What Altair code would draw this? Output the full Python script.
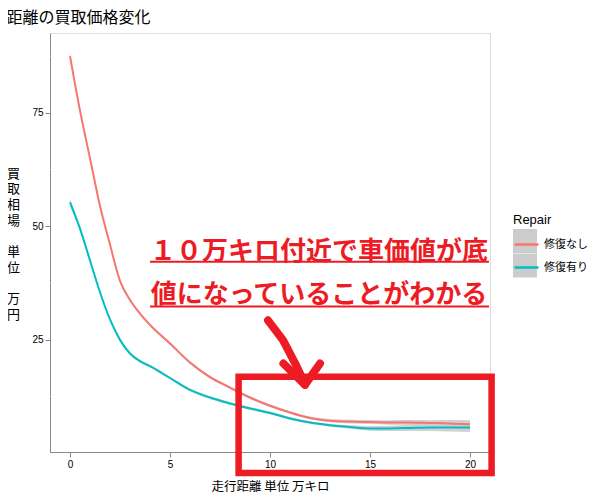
import altair as alt
import pandas as pd

# ---- data ----
dist = [0, 0.5, 1, 1.5, 2, 2.5, 3, 3.5, 4, 5, 6, 7, 8, 9, 10, 11, 12, 13, 14, 15, 16, 17, 18, 19, 20]
price_none = [87.5, 75.5, 65.0, 54.5, 46.0, 38.0, 33.8, 30.8, 28.3, 24.2, 20.0, 16.8, 14.5, 12.3, 10.5,
              9.0, 7.8, 7.2, 7.0, 6.9, 6.8, 6.8, 6.7, 6.6, 6.4]
price_rep = [55.3, 49.5, 42.5, 35.5, 29.5, 25.0, 22.0, 20.3, 19.2, 16.6, 14.0, 12.3, 11.0, 9.9, 8.9,
             7.7, 6.8, 6.2, 5.8, 5.5, 5.5, 5.6, 5.7, 5.7, 5.7]
se_none = [0.8, 0.5, 0.4, 0.35, 0.3, 0.3, 0.3, 0.3, 0.3, 0.3, 0.3, 0.3, 0.3, 0.3, 0.3,
           0.3, 0.3, 0.35, 0.4, 0.45, 0.5, 0.55, 0.6, 0.75, 0.9]
se_rep = [0.8, 0.5, 0.4, 0.35, 0.3, 0.3, 0.3, 0.3, 0.3, 0.3, 0.3, 0.3, 0.3, 0.3, 0.3,
          0.3, 0.3, 0.35, 0.4, 0.5, 0.6, 0.7, 0.8, 0.9, 1.0]
groups = ["修復なし", "修復有り"]
colors = ["#F8766D", "#00BFC4"]
band_keys = [g + " " for g in groups]   # separate key legend that draws the grey key boxes

x_ticks = [0, 5, 10, 15, 20]
y_ticks = [25, 50, 75]
x_minor = [2.5, 7.5, 12.5, 17.5]
y_minor = [12.5, 37.5, 62.5, 87.5]
x_domain = [-1.0, 21.0]
y_domain = [0.3, 92.6]

# annotation (in data units)
note_lines = ["１０万キロ付近で車価値が底", "値になっていることがわかる"]
note_x = [12.45, 12.45]
note_y = [44.4, 34.8]
box_x = [4.0]
box_x2 = [21.0]
box_y = [50.2]
box_y2 = [29.9]
underline_y = [42.2, 32.35]
underline_x = [4.0, 4.0]
underline_x2 = [20.95, 20.95]
arrow_part = ["shaft", "shaft", "shaft", "shaft", "left", "left", "right", "right"]
arrow_x = [9.9, 10.65, 11.25, 11.75, 10.67, 11.75, 12.5, 11.75]
arrow_y = [29.3, 24.95, 19.9, 15.3, 19.8, 15.1, 19.8, 15.1]
frame_x = [8.43]
frame_x2 = [21.08]
frame_y = [16.9]
frame_y2 = [-4.35]

# ---- tables ----
rows = []
for g, k, vals, se in [(groups[0], band_keys[0], price_none, se_none),
                       (groups[1], band_keys[1], price_rep, se_rep)]:
    for xv, yv, s in zip(dist, vals, se):
        rows.append({"x": xv, "y": yv, "lo": yv - s, "hi": yv + s, "Repair": g, "key": k})
df = pd.DataFrame(rows)

JP = "Noto Sans CJK JP"
RED = "#ed1c24"
SP = "\u200b"

xscale = alt.Scale(domain=x_domain, nice=False, zero=False)
yscale = alt.Scale(domain=y_domain, nice=False, zero=False)
xaxis = alt.Axis(values=x_ticks, title="走行距離 単位 万キロ", titleFont=JP, titleFontSize=12.5,
                 titleFontWeight="normal", titleColor="black", titlePadding=11,
                 gridColor="white", gridWidth=1.1)
yaxis = alt.Axis(values=y_ticks,
                 title=["買", "取", "相", "場", SP, "単", "位", SP, "万", "円"],
                 titleFont=JP, titleFontSize=13, titleFontWeight="normal", titleColor="black",
                 titleAngle=0, titleAlign="center", titleBaseline="middle",
                 titleLineHeight=15.7, titleX=-37, titleY=140,
                 gridColor="white", gridWidth=1.1)


def X(field="x"):
    return alt.X(field, type="quantitative", scale=xscale, axis=xaxis)


def Y(field="y"):
    return alt.Y(field, type="quantitative", scale=yscale, axis=yaxis)


LEG = dict(orient="none", legendX=463, symbolSize=576, labelFont=JP, labelFontSize=11,
           labelColor="black")

minor_x = alt.Chart(pd.DataFrame({"x": x_minor})).mark_rule(color="white", strokeWidth=0.6).encode(x=X())
minor_y = alt.Chart(pd.DataFrame({"y": y_minor})).mark_rule(color="white", strokeWidth=0.6).encode(y=Y())

band = alt.Chart(df).mark_area(opacity=0.9, interpolate="monotone").encode(
    x=X(), y=Y("lo"), y2="hi", detail="Repair:N",
    fill=alt.Fill("key:N", scale=alt.Scale(domain=band_keys, range=["#cccccc", "#cccccc"]),
                  legend=alt.Legend(title=None, legendY=196, symbolType="square", symbolOpacity=1,
                                    symbolStrokeWidth=0, labelExpr="''", rowPadding=0.5,
                                    zindex=0, **LEG)))

lines = alt.Chart(df).mark_line(strokeWidth=2, interpolate="monotone").encode(
    x=X(), y=Y(),
    color=alt.Color("Repair:N", scale=alt.Scale(domain=groups, range=colors),
                    legend=alt.Legend(title="Repair", legendY=181, titleFont="Liberation Sans",
                                      titleFontSize=13, titleFontWeight="normal", titleColor="black",
                                      titlePadding=4, symbolType="stroke", symbolStrokeWidth=2.5,
                                      rowPadding=4, zindex=1, **LEG)))

box = alt.Chart(pd.DataFrame({"x": box_x, "x2": box_x2, "y": box_y, "y2": box_y2})).mark_rect(
    color="white").encode(x=X(), x2="x2", y=Y(), y2="y2")

notes = alt.Chart(pd.DataFrame({"x": note_x, "y": note_y, "t": note_lines})).mark_text(
    font=JP, fontSize=26, fontWeight="bold", color=RED, align="center", baseline="middle").encode(
    x=X(), y=Y(), text="t:N")

underlines = alt.Chart(pd.DataFrame({"x": underline_x, "x2": underline_x2, "y": underline_y})).mark_rule(
    color=RED, strokeWidth=2).encode(x=X(), x2="x2", y=Y())

arrow = alt.Chart(pd.DataFrame({"x": arrow_x, "y": arrow_y, "part": arrow_part,
                                "o": list(range(len(arrow_x)))})).mark_line(
    color=RED, strokeWidth=8, strokeCap="round", strokeJoin="round").encode(
    x=X(), y=Y(), detail="part:N", order="o:Q")

frame = alt.Chart(pd.DataFrame({"x": frame_x, "x2": frame_x2, "y": frame_y, "y2": frame_y2})).mark_rect(
    fillOpacity=0, stroke=RED, strokeWidth=6.5).encode(x=X(), x2="x2", y=Y(), y2="y2")

chart = alt.layer(minor_x, minor_y, band, lines, box, notes, underlines, arrow, frame).properties(
    width=440, height=419,
    title=alt.TitleParams("距離の買取価格変化", anchor="start", font=JP, fontSize=16,
                          fontWeight="normal", color="black", offset=7),
    padding={"left": 42, "top": 25, "right": 100, "bottom": 44},
    autosize=alt.AutoSizeParams(type="none"),
).configure_view(fill="#EBEBEB", strokeWidth=0).configure_axis(
    domain=False, grid=True, gridColor="white", gridWidth=1.1,
    tickColor="#333333", tickSize=4, labelColor="#4d4d4d", labelFont="Liberation Sans",
    labelFontSize=11, labelPadding=2,
).configure(background="white")

chart.save("out.html", embed_options={"renderer": "svg", "actions": False})
